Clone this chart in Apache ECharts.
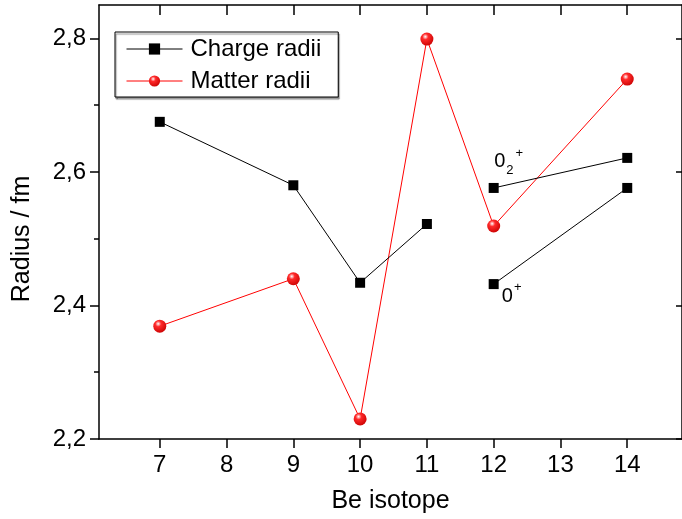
<!DOCTYPE html>
<html>
<head>
<meta charset="utf-8">
<script src="https://cdn.jsdelivr.net/npm/echarts@6/dist/echarts.min.js"></script>
<style>
html, body { margin: 0; padding: 0; background: #fff; }
#chart { width: 682px; height: 519px; }
</style>
</head>
<body>
<div id="chart"></div>
<script>
// Be isotopes: charge and matter radii (fm)
const chargeIsotopes = [7, 9, 10, 11]
const chargeRadii = [2.675, 2.580, 2.434, 2.522]
const excitedIsotopes = [12, 14]
const charge02 = [2.576, 2.621]   // 0_2+ state
const charge0 = [2.432, 2.576]    // 0+ state
const matterIsotopes = [7, 9, 10, 11, 12, 14]
const matterRadii = [2.369, 2.440, 2.230, 2.799, 2.519, 2.739]
const xTicks = [7, 8, 9, 10, 11, 12, 13, 14]
const yMajor = [2.2, 2.4, 2.6, 2.8]
const yMinor = [2.3, 2.5, 2.7]

const font = 'Liberation Sans, Arial, sans-serif'
const ball = {
    type: 'radial', x: 0.38, y: 0.32, r: 0.75,
    colorStops: [
        { offset: 0, color: '#ffffff' },
        { offset: 0.3, color: '#ff2a2a' },
        { offset: 1, color: '#c80000' }
    ]
}

function pairs(xs, ys) {
    return xs.map((x, i) => [x, ys[i]])
}

let d02 = pairs(excitedIsotopes, charge02)
d02[0] = {
    value: d02[0],
    label: {
        show: true, position: 'inside', offset: [15, -26],
        formatter: '{n|0}{s|2}{p|+}',
        rich: {
            n: { fontSize: 20, fontFamily: font, color: '#000', verticalAlign: 'middle' },
            s: { fontSize: 13, fontFamily: font, color: '#000', padding: [16, 0, 0, 1], verticalAlign: 'middle' },
            p: { fontSize: 13, fontFamily: font, color: '#000', padding: [0, 0, 18, 2], verticalAlign: 'middle' }
        }
    }
}
let d0 = pairs(excitedIsotopes, charge0)
d0[0] = {
    value: d0[0],
    label: {
        show: true, position: 'inside', offset: [18, 12],
        formatter: '{n|0}{p|+}',
        rich: {
            n: { fontSize: 20, fontFamily: font, color: '#000', verticalAlign: 'middle' },
            p: { fontSize: 13, fontFamily: font, color: '#000', padding: [0, 0, 18, 1], verticalAlign: 'middle' }
        }
    }
}

const blackLine = {
    type: 'line',
    name: 'Charge radii',
    symbol: 'rect',
    symbolSize: 10,
    lineStyle: { color: '#000', width: 1 },
    itemStyle: { color: '#000' },
    label: { show: false },
    emphasis: { disabled: true },
    z: 3
}

let charts = echarts.init(document.getElementById('chart'))
let config = {
    animation: false,
    textStyle: { fontFamily: font },
    grid: { left: 99, top: 5, width: 585, height: 434 },
    legend: {
        data: ['Charge radii', 'Matter radii'],
        orient: 'vertical',
        left: 115,
        top: 32,
        padding: [5, 17, 4, 11],
        itemGap: 8,
        itemWidth: 56,
        itemHeight: 14,
        borderColor: '#000',
        borderWidth: 1,
        borderRadius: 0,
        backgroundColor: '#fff',
        shadowColor: 'rgba(0,0,0,0.45)',
        shadowOffsetX: 1,
        shadowOffsetY: 2,
        shadowBlur: 1,
        selectedMode: false,
        lineStyle: { width: 1 },
        textStyle: { fontSize: 24, color: '#000', fontFamily: font, padding: [0, 0, 0, 3] }
    },
    xAxis: [
        {
            type: 'value',
            position: 'bottom',
            min: 6.09,
            max: 14.82,
            name: 'Be isotope',
            nameLocation: 'middle',
            nameGap: 50,
            nameTextStyle: { fontSize: 25, color: '#000', fontFamily: font },
            axisLine: { lineStyle: { color: '#000', width: 1.5 } },
            axisTick: { customValues: xTicks, length: 9, lineStyle: { color: '#000', width: 1.5 } },
            axisLabel: { customValues: xTicks, fontSize: 24, color: '#000', margin: 14, fontFamily: font },
            splitLine: { show: false }
        },
        {
            type: 'value',
            position: 'top',
            min: 6.09,
            max: 14.82,
            axisLine: { lineStyle: { color: '#000', width: 1.5 } },
            axisTick: { customValues: xTicks, inside: true, length: 10, lineStyle: { color: '#000', width: 1.5 } },
            axisLabel: { show: false },
            splitLine: { show: false }
        }
    ],
    yAxis: [
        {
            type: 'value',
            position: 'left',
            min: 2.2,
            max: 2.85,
            name: 'Radius / fm',
            nameLocation: 'middle',
            nameGap: 64,
            nameTextStyle: { fontSize: 25, color: '#000', fontFamily: font, padding: [0, 34, 0, 0] },
            axisLine: { lineStyle: { color: '#000', width: 1.5 } },
            axisTick: { customValues: yMajor, length: 9, lineStyle: { color: '#000', width: 1.5 } },
            axisLabel: {
                customValues: yMajor, fontSize: 24, color: '#000', margin: 13, fontFamily: font,
                formatter: v => v.toFixed(1).replace('.', ',')
            },
            splitLine: { show: false }
        },
        {
            type: 'value',
            position: 'left',
            min: 2.2,
            max: 2.85,
            axisLine: { show: false },
            axisTick: { customValues: yMinor, length: 5, lineStyle: { color: '#000', width: 1.5 } },
            axisLabel: { show: false },
            splitLine: { show: false }
        },
        {
            type: 'value',
            position: 'right',
            min: 2.2,
            max: 2.85,
            axisLine: { show: true, lineStyle: { color: '#000', width: 1.5 } },
            axisTick: { customValues: yMajor, inside: true, length: 6, lineStyle: { color: '#000', width: 1.5 } },
            axisLabel: { show: false },
            splitLine: { show: false }
        }
    ],
    series: [
        Object.assign({}, blackLine, { data: pairs(chargeIsotopes, chargeRadii) }),
        {
            type: 'line',
            name: 'Matter radii',
            symbol: 'circle',
            symbolSize: 13,
            lineStyle: { color: '#ff0000', width: 1 },
            itemStyle: { color: ball },
            emphasis: { disabled: true },
            data: pairs(matterIsotopes, matterRadii),
            z: 2
        },
        Object.assign({}, blackLine, { data: d02 }),
        Object.assign({}, blackLine, { data: d0 })
    ]
}
config && charts.setOption(config)
window.addEventListener('resize', () => charts.resize())
</script>
</body>
</html>
